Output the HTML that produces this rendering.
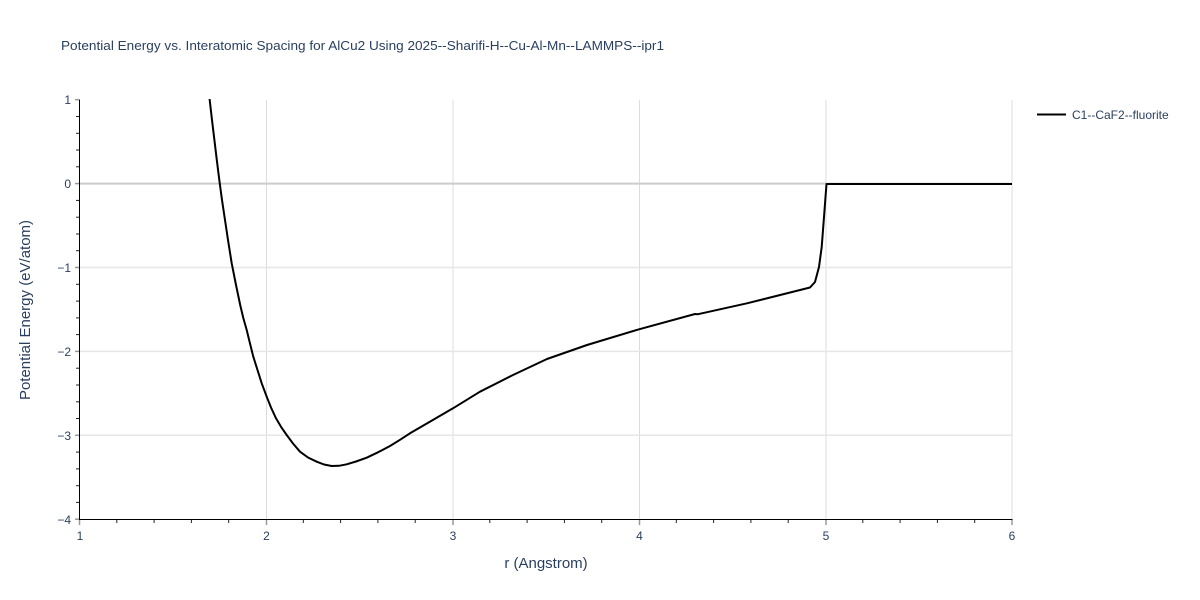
<!DOCTYPE html>
<html>
<head>
<meta charset="utf-8">
<style>
  html,body{margin:0;padding:0;background:#fff;}
  svg{display:block;}
  text{font-family:"Liberation Sans", Arial, sans-serif;fill:#2a3f5f;}
</style>
</head>
<body>
<svg width="1200" height="600" viewBox="0 0 1200 600" xmlns="http://www.w3.org/2000/svg">
  <rect width="1200" height="600" fill="#fff"/>
  <!-- title -->
  <text x="61" y="50" font-size="13" textLength="603" lengthAdjust="spacingAndGlyphs">Potential Energy vs. Interatomic Spacing for AlCu2 Using 2025--Sharifi-H--Cu-Al-Mn--LAMMPS--ipr1</text>

  <!-- vertical gridlines -->
  <g stroke="#dcdcdc" stroke-width="1">
    <line x1="266.5" y1="100" x2="266.5" y2="519"/>
    <line x1="453" y1="100" x2="453" y2="519"/>
    <line x1="639.5" y1="100" x2="639.5" y2="519"/>
    <line x1="826" y1="100" x2="826" y2="519"/>
    <line x1="1012" y1="100" x2="1012" y2="519"/>
  </g>
  <!-- horizontal gridlines -->
  <g stroke="#e6e6e6" stroke-width="1.5">
    <line x1="80" y1="267.5" x2="1012" y2="267.5"/>
    <line x1="80" y1="351.4" x2="1012" y2="351.4"/>
    <line x1="80" y1="435.3" x2="1012" y2="435.3"/>
  </g>
  <line x1="80" y1="183.6" x2="1012" y2="183.6" stroke="#cccccc" stroke-width="2"/>

  <!-- axes -->
  <line x1="79.5" y1="99.5" x2="79.5" y2="520" stroke="#000" stroke-width="1"/>
  <line x1="79" y1="519.5" x2="1012.5" y2="519.5" stroke="#000" stroke-width="1"/>

  <!-- y minor ticks -->
  <g stroke="#222" stroke-width="1">
    <line x1="76" y1="116.5" x2="79" y2="116.5"/>
    <line x1="76" y1="133.3" x2="79" y2="133.3"/>
    <line x1="76" y1="150" x2="79" y2="150"/>
    <line x1="76" y1="166.8" x2="79" y2="166.8"/>
    <line x1="76" y1="200.4" x2="79" y2="200.4"/>
    <line x1="76" y1="217.2" x2="79" y2="217.2"/>
    <line x1="76" y1="234" x2="79" y2="234"/>
    <line x1="76" y1="250.7" x2="79" y2="250.7"/>
    <line x1="76" y1="284.3" x2="79" y2="284.3"/>
    <line x1="76" y1="301.1" x2="79" y2="301.1"/>
    <line x1="76" y1="317.9" x2="79" y2="317.9"/>
    <line x1="76" y1="334.6" x2="79" y2="334.6"/>
    <line x1="76" y1="368.2" x2="79" y2="368.2"/>
    <line x1="76" y1="385" x2="79" y2="385"/>
    <line x1="76" y1="401.8" x2="79" y2="401.8"/>
    <line x1="76" y1="418.5" x2="79" y2="418.5"/>
    <line x1="76" y1="452.1" x2="79" y2="452.1"/>
    <line x1="76" y1="468.9" x2="79" y2="468.9"/>
    <line x1="76" y1="485.7" x2="79" y2="485.7"/>
    <line x1="76" y1="502.4" x2="79" y2="502.4"/>
  </g>
  <!-- y major ticks -->
  <g stroke="#999" stroke-width="1.5">
    <line x1="75" y1="99.7" x2="79" y2="99.7"/>
    <line x1="75" y1="183.6" x2="79" y2="183.6"/>
    <line x1="75" y1="267.5" x2="79" y2="267.5"/>
    <line x1="75" y1="351.4" x2="79" y2="351.4"/>
    <line x1="75" y1="435.3" x2="79" y2="435.3"/>
    <line x1="75" y1="519.2" x2="79" y2="519.2"/>
  </g>
  <!-- x minor ticks -->
  <g stroke="#222" stroke-width="1">
    <line x1="116.8" y1="520" x2="116.8" y2="523"/>
    <line x1="154.1" y1="520" x2="154.1" y2="523"/>
    <line x1="191.4" y1="520" x2="191.4" y2="523"/>
    <line x1="228.7" y1="520" x2="228.7" y2="523"/>
    <line x1="303.3" y1="520" x2="303.3" y2="523"/>
    <line x1="340.6" y1="520" x2="340.6" y2="523"/>
    <line x1="377.9" y1="520" x2="377.9" y2="523"/>
    <line x1="415.2" y1="520" x2="415.2" y2="523"/>
    <line x1="489.8" y1="520" x2="489.8" y2="523"/>
    <line x1="527.1" y1="520" x2="527.1" y2="523"/>
    <line x1="564.4" y1="520" x2="564.4" y2="523"/>
    <line x1="601.7" y1="520" x2="601.7" y2="523"/>
    <line x1="676.3" y1="520" x2="676.3" y2="523"/>
    <line x1="713.6" y1="520" x2="713.6" y2="523"/>
    <line x1="750.9" y1="520" x2="750.9" y2="523"/>
    <line x1="788.2" y1="520" x2="788.2" y2="523"/>
    <line x1="862.8" y1="520" x2="862.8" y2="523"/>
    <line x1="900.1" y1="520" x2="900.1" y2="523"/>
    <line x1="937.4" y1="520" x2="937.4" y2="523"/>
    <line x1="974.7" y1="520" x2="974.7" y2="523"/>
  </g>
  <!-- x major ticks -->
  <g stroke="#999" stroke-width="1.5">
    <line x1="79.5" y1="520" x2="79.5" y2="525"/>
    <line x1="266.5" y1="520" x2="266.5" y2="525"/>
    <line x1="453" y1="520" x2="453" y2="525"/>
    <line x1="639.5" y1="520" x2="639.5" y2="525"/>
    <line x1="826" y1="520" x2="826" y2="525"/>
    <line x1="1012" y1="520" x2="1012" y2="525"/>
  </g>

  <!-- y tick labels -->
  <g font-size="12" text-anchor="end">
    <text x="71" y="104">1</text>
    <text x="71" y="188">0</text>
    <text x="71" y="272">−1</text>
    <text x="71" y="356">−2</text>
    <text x="71" y="440">−3</text>
    <text x="71" y="524">−4</text>
  </g>
  <!-- x tick labels -->
  <g font-size="12" text-anchor="middle">
    <text x="80" y="540">1</text>
    <text x="266.5" y="540">2</text>
    <text x="453" y="540">3</text>
    <text x="639.5" y="540">4</text>
    <text x="826" y="540">5</text>
    <text x="1012" y="540">6</text>
  </g>

  <!-- axis titles -->
  <text x="546" y="568" font-size="15" text-anchor="middle">r (Angstrom)</text>
  <text transform="translate(30,310) rotate(-90)" font-size="15" text-anchor="middle">Potential Energy (eV/atom)</text>

  <!-- curve -->
  <defs>
    <clipPath id="plotclip"><rect x="80" y="99" width="933" height="421"/></clipPath>
  </defs>
  <polyline clip-path="url(#plotclip)" fill="none" stroke="#000" stroke-width="2" stroke-linejoin="round"
    points="209.2,94 209.7,100 212,120 214.4,140 216.8,160 219.3,180 222,200 225,220 228,240 231.7,263.3 236,285 240.2,305 243.3,318 246.7,330 250,343.5 253.3,356.7 257.5,370 261.7,383.3 266.7,396.7 271,407.5 276,418.3 281,426.8 286.7,435 293,443.5 300,451.7 308,457.5 316.7,461.7 324,464.5 331.7,466 339,465.8 346.7,464.3 356,461.5 366.7,457.7 378,452.3 390,446 400,439.8 410,433.3 432,420.5 453,408.3 480,391.7 513,375 547,359 587,345 639,329.3 695,314 698,314.2 747,303.3 810,287.5 815,282 819,267 821.7,247 824,217 826.5,184 1012,184"/>

  <!-- legend -->
  <line x1="1037" y1="114.5" x2="1066" y2="114.5" stroke="#000" stroke-width="2"/>
  <text x="1072" y="119" font-size="12">C1--CaF2--fluorite</text>
</svg>
</body>
</html>
